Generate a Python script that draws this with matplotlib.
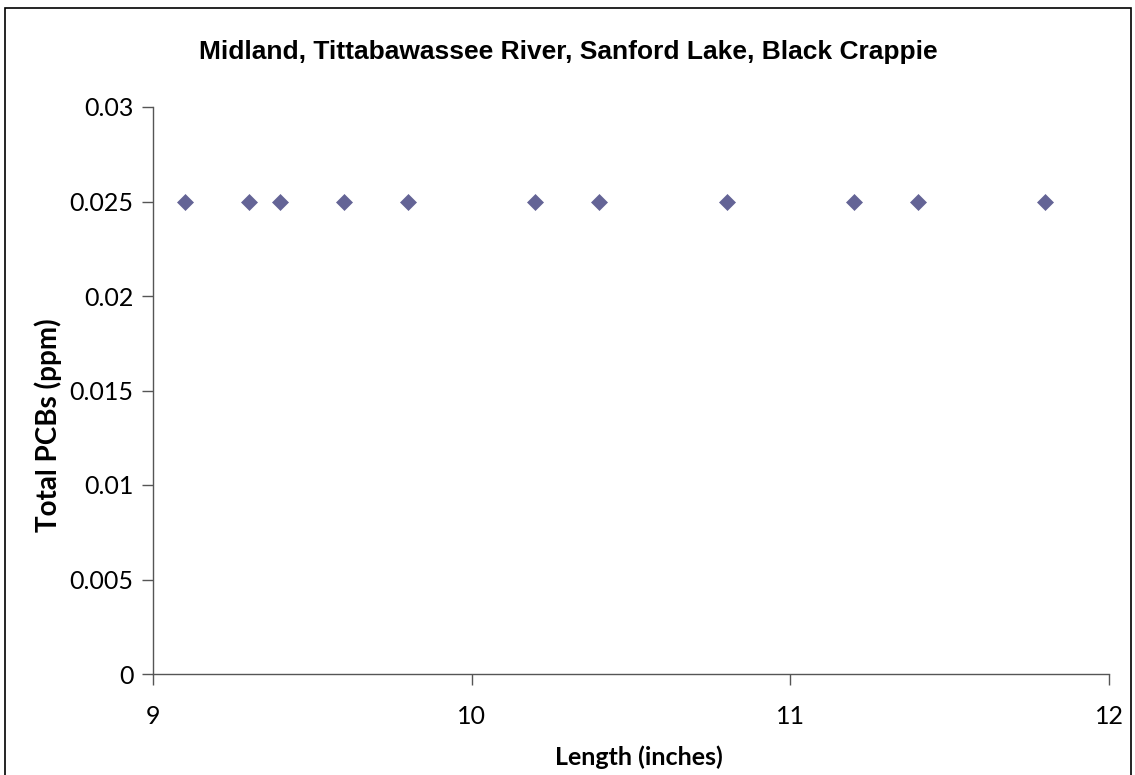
import matplotlib
matplotlib.use("Agg")
import matplotlib.pyplot as plt
from matplotlib.patches import Rectangle

# ── data ──────────────────────────────────────────────────────────────────────
length_in = [9.1, 9.3, 9.4, 9.6, 9.8, 10.2, 10.4, 10.8, 11.2, 11.4, 11.8]
pcbs_ppm  = [0.025] * len(length_in)
x_ticks   = [9, 10, 11, 12]
y_ticks   = [0, 0.005, 0.01, 0.015, 0.02, 0.025, 0.03]
y_labels  = ["0", "0.005", "0.01", "0.015", "0.02", "0.025", "0.03"]

TITLE = "Midland, Tittabawassee River, Sanford Lake, Black Crappie"

# ── plot ──────────────────────────────────────────────────────────────────────
W, H = 1135, 775
fig = plt.figure(figsize=(W / 100, H / 100), dpi=100)
ax = fig.add_axes([153 / W, 1 - 674 / H, (1109 - 153) / W, (674 - 107) / H])

ax.scatter(length_in, pcbs_ppm, marker="D", s=66, color="#646496",
           edgecolors="#646496", linewidths=0.5, zorder=3)

ax.set_xlim(9, 12)
ax.set_ylim(0, 0.03)
ax.set_xticks(x_ticks)
ax.set_yticks(y_ticks)
ax.set_yticklabels(y_labels)

for s in ("top", "right"):
    ax.spines[s].set_visible(False)
for s in ("left", "bottom"):
    ax.spines[s].set_color("#555555")
    ax.spines[s].set_linewidth(1.0)
ax.tick_params(direction="out", length=8, width=1.0, color="#555555",
               labelsize=18)
ax.tick_params(axis="y", pad=6)
ax.tick_params(axis="x", pad=14)
for lab in ax.get_xticklabels() + ax.get_yticklabels():
    lab.set_family("Lato")

ax.set_xlabel("Length (inches)", family="Lato", fontweight="bold", fontsize=18)
ax.set_ylabel("Total PCBs (ppm)", family="Lato", fontweight="bold", fontsize=20)
ax.xaxis.set_label_coords(0.508, -0.146)
ax.yaxis.set_label_coords(-0.11, 0.439)
ax.xaxis.label.set_va("center")
ax.yaxis.label.set_va("center")

fig.text(568 / W, 1 - 52 / H, TITLE, ha="center", va="center",
         family="Liberation Sans", fontweight="bold", fontsize=19)

# outer chart border
fig.patches.append(Rectangle((5 / W, -0.02), (1131 - 5) / W, 1 - 8 / H + 0.02,
                             transform=fig.transFigure, fill=False,
                             edgecolor="black", linewidth=1.2))

fig.savefig("out.png", dpi=100)
